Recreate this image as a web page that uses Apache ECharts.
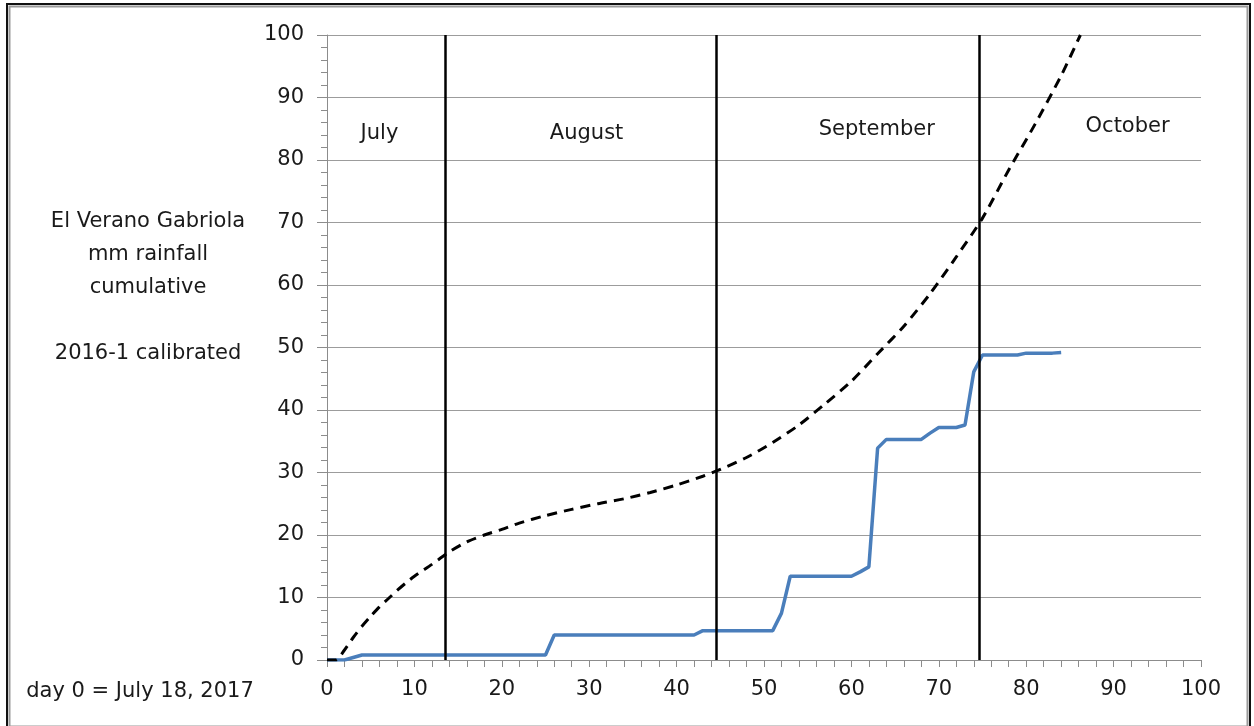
<!DOCTYPE html>
<html>
<head>
<meta charset="utf-8">
<script src="https://cdn.jsdelivr.net/npm/echarts@6/dist/echarts.min.js"></script>
<style>
html,body{margin:0;padding:0;background:#fff;}
#chart{width:1254px;height:726px;}
</style>
</head>
<body>
<div id="chart"></div>
<script>
// Measured cumulative rainfall (blue)
var blueDays = [0, 2, 3, 4, 25, 26, 42, 43, 51, 52, 53, 60, 61, 62, 63, 64, 68, 69, 70, 72, 73, 74, 75, 79, 80, 83, 84];
var blueVals = [0, 0, 0.4, 0.8, 0.8, 4.0, 4.0, 4.7, 4.7, 7.5, 13.4, 13.4, 14.1, 14.9, 33.9, 35.3, 35.3, 36.3, 37.2, 37.2, 37.6, 46.1, 48.8, 48.8, 49.1, 49.1, 49.2];

// Reference curve (dashed)
var refDays = [0, 1, 2, 3, 4, 5, 6, 7, 8, 9, 10, 12, 14, 16, 18, 20, 22, 25, 28, 31, 34, 37, 40, 43, 45, 48, 51, 54, 57, 60, 63, 66, 69, 72, 75, 78, 81, 84, 86.2];
var refVals = [0, 0, 1.6, 3.6, 5.4, 7.0, 8.5, 9.8, 11.1, 12.3, 13.4, 15.3, 17.3, 18.9, 20.0, 20.9, 21.9, 23.1, 24.1, 25.0, 25.8, 26.8, 28.0, 29.4, 30.5, 32.4, 34.8, 37.6, 41.0, 44.6, 49.0, 53.4, 58.6, 64.5, 70.7, 78.4, 85.7, 93.5, 100];

// Month boundaries (day numbers) and month labels
var monthBoundaries = [13.5, 44.5, 74.6];
var monthNames = ['July', 'August', 'September', 'October'];
var monthLabelDays = [6, 29.7, 62.9, 91.6];
var monthLabelVals = [84.3, 84.3, 84.8, 85.3];

var yTicks = [0, 10, 20, 30, 40, 50, 60, 70, 80, 90, 100];
var xTicks = [0, 10, 20, 30, 40, 50, 60, 70, 80, 90, 100];

var leftTitleLines = ['El Verano Gabriola', 'mm rainfall', 'cumulative', '', '2016-1 calibrated'];
var dayNote = 'day 0 = July 18, 2017';

function pairs(xs, ys){ return xs.map(function(x,i){ return [x, ys[i]]; }); }

var FONT = 'DejaVu Sans';
var TXT = '#1a1a1a';
var chart = echarts.init(document.getElementById('chart'), null, {renderer:'canvas'});
var option = {
  backgroundColor: '#ffffff',
  animation: false,
  textStyle: {fontFamily: FONT},
  grid: {left: 327, right: 53, top: 35, bottom: 66, containLabel: false},
  xAxis: {
    type: 'value', min: xTicks[0], max: xTicks[xTicks.length-1], interval: 10,
    axisLine: {show: true, lineStyle: {color: '#8c8c8c', width: 1}},
    axisTick: {show: true, length: 7, lineStyle: {color: '#8c8c8c'}},
    minorTick: {show: true, splitNumber: 5, length: 7, lineStyle: {color: '#8c8c8c'}},
    splitLine: {show: false},
    axisLabel: {fontFamily: FONT, fontSize: 21, color: TXT, margin: 19}
  },
  yAxis: {
    type: 'value', min: yTicks[0], max: yTicks[yTicks.length-1], interval: 10,
    axisLine: {show: true, lineStyle: {color: '#8c8c8c', width: 1}},
    axisTick: {show: true, length: 10, lineStyle: {color: '#8c8c8c'}},
    minorTick: {show: true, splitNumber: 5, length: 6, lineStyle: {color: '#8c8c8c'}},
    splitLine: {show: true, lineStyle: {color: '#9c9c9c', width: 1.2}},
    axisLabel: {fontFamily: FONT, fontSize: 21, color: TXT, margin: 23}
  },
  series: [
    {
      type: 'line', name: 'rainfall', data: pairs(blueDays, blueVals),
      showSymbol: false,
      lineStyle: {color: '#4a7ebb', width: 3.5},
      z: 3,
      markLine: {
        silent: true, symbol: 'none',
        label: {show: false},
        lineStyle: {color: '#000', width: 2.5, type: 'solid', opacity: 1},
        data: monthBoundaries.map(function(d){ return {xAxis: d}; })
      }
    },
    {
      type: 'line', name: 'reference', data: pairs(refDays, refVals),
      showSymbol: false, smooth: 0.25,
      lineStyle: {color: '#000', width: 3, type: [10, 7]},
      z: 4
    },
    {
      type: 'scatter', name: 'months',
      data: monthNames.map(function(n,i){ return {name: n, value: [monthLabelDays[i], monthLabelVals[i]]}; }),
      symbolSize: 0, silent: true,
      itemStyle: {opacity: 1},
      label: {show: true, position: 'inside', formatter: '{b}', fontFamily: FONT, fontSize: 21, color: TXT, opacity: 1}
    }
  ],
  graphic: [
    {type: 'rect', shape: {x: 7, y: 4, width: 1243, height: 724}, style: {fill: 'none', stroke: '#111', lineWidth: 2}, silent: true},
    {type: 'rect', shape: {x: 9.5, y: 6.5, width: 1238, height: 720}, style: {fill: 'none', stroke: '#9a9a9a', lineWidth: 2}, silent: true},
    {type: 'text', x: 148, y: 205, style: {
      text: leftTitleLines.join('\n'), textAlign: 'center', textVerticalAlign: 'top',
      font: '21px "DejaVu Sans"', fill: TXT, lineHeight: 33
    }},
    {type: 'text', x: 140, y: 692, style: {
      text: dayNote, textAlign: 'center', textVerticalAlign: 'middle',
      font: '21px "DejaVu Sans"', fill: TXT
    }}
  ]
};
chart.setOption(option);
</script>
</body>
</html>
